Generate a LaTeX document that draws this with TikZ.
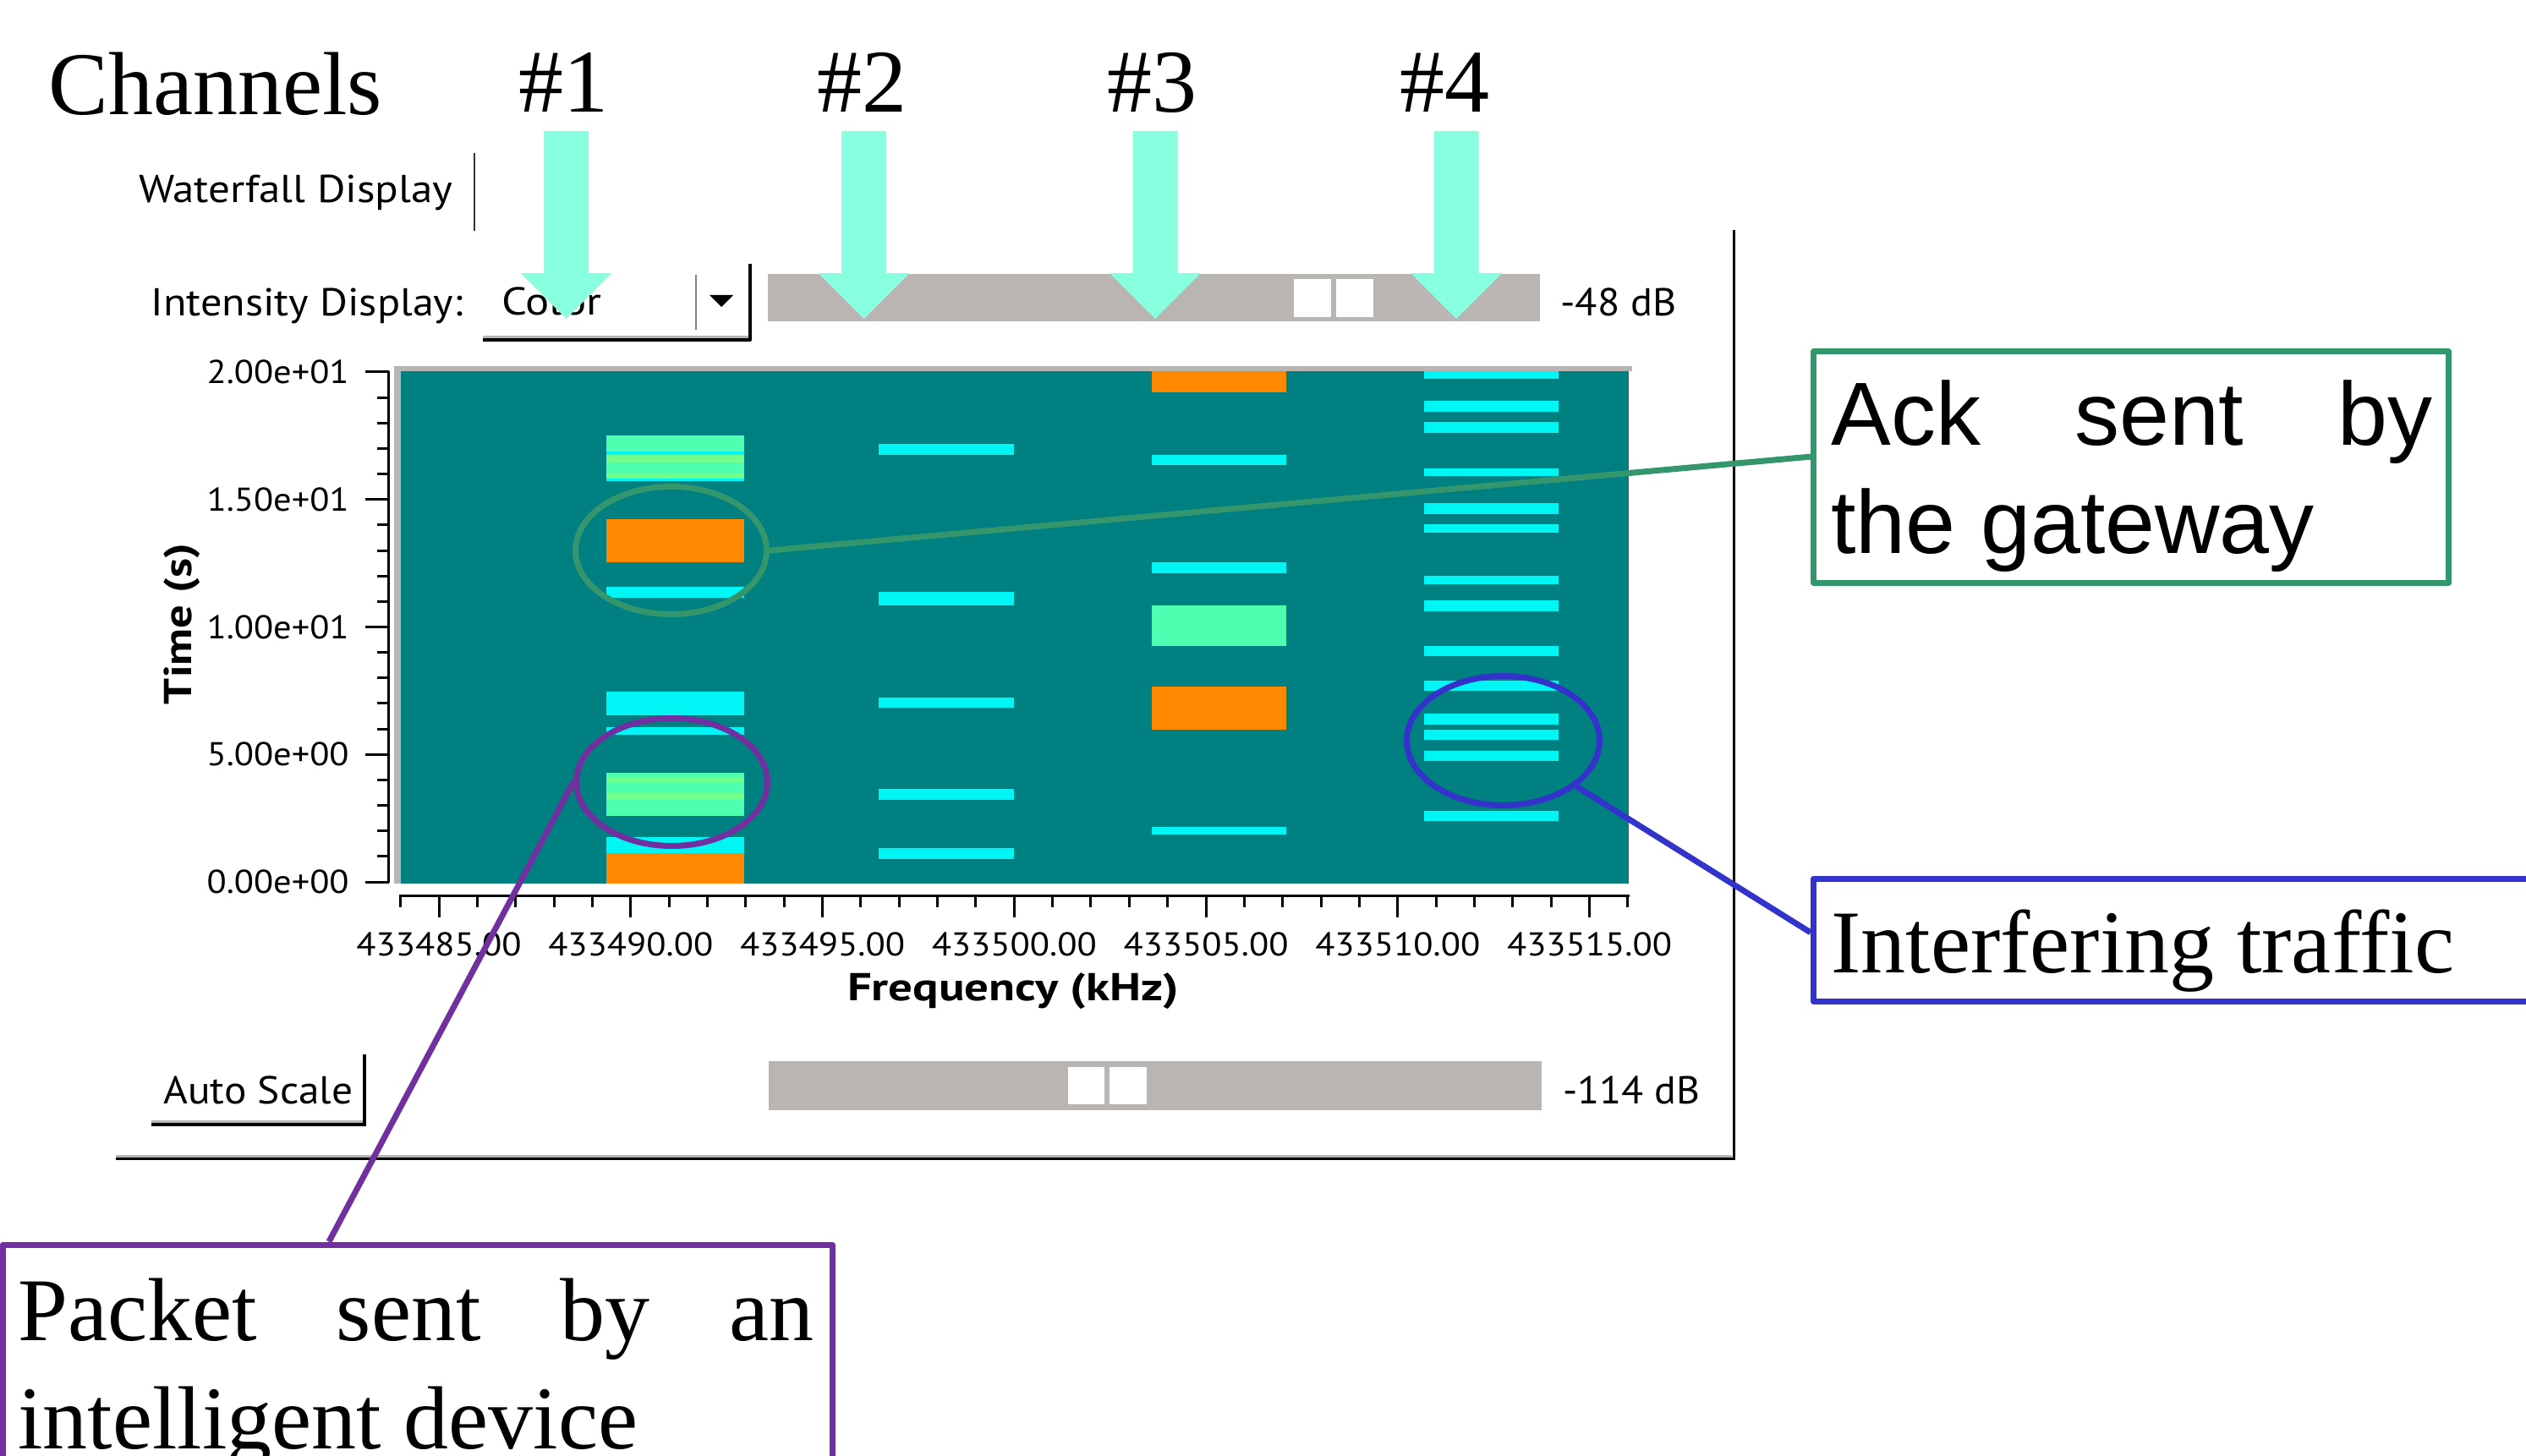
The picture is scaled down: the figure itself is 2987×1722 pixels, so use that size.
\documentclass[tikz,border=0pt]{standalone}
\usepackage{fontspec}
\usepackage{graphicx}
\usetikzlibrary{shapes.geometric,calc}
\newfontfamily\guifont{PT Sans}
\newfontfamily\serifA{Liberation Serif}
\newfontfamily\sansA{Liberation Sans}
\newcommand{\fitw}[2]{\resizebox{#1}{\height}{#2}}
\definecolor{teal0}{RGB}{0,128,128}
\definecolor{cyan0}{RGB}{0,245,245}
\definecolor{orange0}{RGB}{255,136,0}
\definecolor{green1}{RGB}{78,255,178}
\definecolor{green2}{RGB}{112,255,140}
\definecolor{aqua}{RGB}{136,255,222}
\definecolor{slidergray}{RGB}{184,181,178}
\definecolor{ackgreen}{RGB}{52,150,108}
\definecolor{intblue}{RGB}{51,51,204}
\definecolor{pktpurple}{RGB}{112,48,160}
\begin{document}
\begin{tikzpicture}[x=0.5pt,y=-0.5pt,
  gui/.style={font=\guifont\fontsize{23}{27}\selectfont, inner sep=0, anchor=base west},
  guibold/.style={font=\guifont\bfseries\fontsize{23}{27}\selectfont, inner sep=0, anchor=base},
  ticklab/.style={font=\guifont\fontsize{19.5}{23}\selectfont, inner sep=0},
  big/.style={font=\serifA\fontsize{53}{64}\selectfont, inner sep=0, anchor=base west},
  bigsans/.style={font=\sansA\fontsize{53}{64}\selectfont, inner sep=0, anchor=base west},
  axisline/.style={line width=1.5pt},
  ring/.style={ellipse, draw, line width=3.5pt, inner sep=0},
  callbox/.style={draw, line width=3.5pt, line join=round, inner sep=0},
  link/.style={line width=3.5pt}]
\clip (0,0) rectangle (2987,1722);
\fill[white] (0,0) rectangle (2987,1722);

% ---------- GUI frame ----------
\draw[black, line width=1.5pt] (2050,272) -- (2050,1372);
\draw[slidergray, line width=1.5pt] (137,1367.5) -- (2048,1367.5);
\draw[black, line width=1.5pt] (137,1370.5) -- (2051,1370.5);

\node[gui] (wftab) at (164,240) {\fitw{185.5pt}{Waterfall Display}};
\draw[black!80, line width=1.2pt] (561,181) -- (561,273);

\node[gui] (intlab) at (178,373) {\fitw{184.5pt}{Intensity Display:}};
\node[gui] (colorlab) at (593,373) {\fitw{59pt}{Color}};
\draw[slidergray, line width=1.5pt] (571,398.5) -- (885,398.5);
\draw[black, line width=2pt] (571,402) -- (888,402);
\draw[black, line width=2pt] (886.5,312) -- (886.5,403);
\draw[gray, line width=1pt] (823,325) -- (823,390);
\fill[black] (839,349) -- (867,349) -- (853,363) -- cycle;

% top slider
\fill[slidergray] (908,324) rectangle (1821,380);
\fill[white] (1530,330) rectangle (1574,375);
\fill[white] (1580,330) rectangle (1624,375);
\node[gui] (topdb) at (1845,374) {\fitw{68.5pt}{-48 dB}};

% bottom slider
\fill[slidergray] (909,1255) rectangle (1823,1313);
\fill[white] (1263,1262) rectangle (1306,1306);
\fill[white] (1312,1262) rectangle (1356,1306);
\node[gui] (botdb) at (1848,1305) {\fitw{81pt}{-114 dB}};

% auto scale button
\node[gui] (autoscale) at (193,1305) {\fitw{112pt}{Auto Scale}};
\draw[slidergray, line width=1.5pt] (179,1326.5) -- (430,1326.5);
\draw[black, line width=2pt] (179,1330) -- (433,1330);
\draw[black, line width=2pt] (431,1247) -- (431,1332);

% ---------- plot ----------
\fill[slidergray] (466,433) rectangle (1930,439);
\fill[slidergray] (466,433) rectangle (474,1045);
\fill[teal0] (474,439) rectangle (1926,1045);

% y axis
\draw[axisline] (459.5,439) -- (459.5,1044);
\foreach \t in {0,...,20} {\draw[axisline] (446,{1043-\t*30.15}) -- (459.5,{1043-\t*30.15});}
\foreach \t/\lab in {0/0.00e+00,5/5.00e+00,10/1.00e+01,15/1.50e+01,20/2.00e+01} {
  \draw[axisline] (432,{1043-\t*30.15}) -- (459.5,{1043-\t*30.15});
  \node[ticklab, anchor=base east] at (413,{1043-\t*30.15+13.5}) {\fitw{84pt}{\lab}};
}
\node[guibold, rotate=90] (ylab) at (226.5,738) {\fitw{95pt}{Time (s)}};

% x axis
\draw[axisline] (474,1059) -- (1927,1059);
\foreach \k in {0,...,32} {\draw[axisline] ({473.65+\k*45.35},1058) -- ({473.65+\k*45.35},1073);}
\foreach \k/\lab in {1/433485.00,6/433490.00,11/433495.00,16/433500.00,21/433505.00,26/433510.00,31/433515.00} {
  \draw[axisline] ({473.65+\k*45.35},1058) -- ({473.65+\k*45.35},1085);
  \node[ticklab, anchor=base] at ({473.65+\k*45.35},1130) {\fitw{97.5pt}{\lab}};
}
\node[guibold] (xlab) at (1198,1183) {\fitw{196pt}{Frequency (kHz)}};

% ---------- bars ----------
% channel 1
\fill[green1] (717,515) rectangle (880,569);
\fill[cyan0] (717,534) rectangle (880,538);
\fill[green2] (717,538) rectangle (880,547);
\fill[green2] (717,559) rectangle (880,566);
\fill[cyan0] (717,566) rectangle (880,569);
\fill[orange0] (717,614) rectangle (880,665);
\fill[cyan0] (717,694) rectangle (880,707);
\fill[cyan0] (717,818) rectangle (880,846);
\fill[cyan0] (717,860) rectangle (880,869);
\fill[green1] (717,914) rectangle (880,965);
\fill[green2] (717,920) rectangle (880,924.5);
\fill[green2] (717,938) rectangle (880,945.5);
\fill[cyan0] (717,990) rectangle (880,1009);
\fill[orange0] (717,1009) rectangle (880,1045);
% channel 2
\foreach \a/\b in {525/537.5,700/716,825/837,933/946,1003/1016}
  {\fill[cyan0] (1039,\a) rectangle (1199,\b);}
% channel 3
\fill[orange0] (1362,439) rectangle (1521,464);
\fill[cyan0] (1362,538) rectangle (1521,550);
\fill[cyan0] (1362,665) rectangle (1521,678);
\fill[green1] (1362,716) rectangle (1521,764);
\fill[orange0] (1362,812) rectangle (1521,863);
\fill[cyan0] (1362,978) rectangle (1521,987);
% channel 4
\foreach \a/\b in {439/448,474/487,499/512,554/563,595/608,620/630,681/691,710/723,764/776,805/817,844/857,863/875,888/900,959/971}
  {\fill[cyan0] (1684,\a) rectangle (1843,\b);}

% ---------- channel arrows ----------
\foreach \c in {669.5,1021.5,1366,1722} {
  \fill[aqua] ({\c-26.5},155) -- ({\c+26.5},155) -- ({\c+26.5},323) -- ({\c+54},323)
     -- (\c,377) -- ({\c-54},323) -- ({\c-26.5},323) -- cycle;
}

% ---------- headings ----------
\node[big] (chan) at (57,136) {Channels};
\node[big, anchor=base] (h1) at (666,133) {\#1};
\node[big, anchor=base] (h2) at (1019,133) {\#2};
\node[big, anchor=base] (h3) at (1362,133) {\#3};
\node[big, anchor=base] (h4) at (1708,133) {\#4};

% ---------- callouts ----------
\node[ring, draw=ackgreen, minimum width=113pt, minimum height=75.5pt] (ackell) at (793.5,651) {};
\node[ring, draw=pktpurple, minimum width=113pt, minimum height=75.5pt] (pktell) at (794.5,925) {};
\node[ring, draw=intblue, minimum width=114pt, minimum height=76.5pt] (intell) at (1777.5,876) {};

\node[callbox, draw=ackgreen, minimum width=375.5pt, minimum height=136.75pt] (ackbox) at (2520,552.75) {};
\node[callbox, draw=intblue, minimum width=477.75pt, minimum height=72.5pt] (intbox) at (2622.25,1112) {};
\node[callbox, draw=pktpurple, minimum width=490.75pt, minimum height=164pt] (pktbox) at (493.75,1636) {};

\draw[link, ackgreen] (ackell.east) -- ($(ackbox.north west)!0.455!(ackbox.south west)$);
\draw[link, intblue] (intell.-32) -- ($(intbox.north west)!0.44!(intbox.south west)$);
\draw[link, pktpurple] (pktell.west) -- ($(pktbox.north west)!0.394!(pktbox.north east)$);

\node[bigsans] (ack1) at (2165,526) {\makebox[355.5pt][s]{Ack sent by}};
\node[bigsans] (ack2) at (2165,654) {the gateway};
\node[big] (inttxt) at (2165,1150) {Interfering traffic};
\node[big] (pkt1) at (21,1585) {\makebox[470.5pt][s]{Packet sent by an}};
\node[big] (pkt2) at (21,1713) {intelligent device};
\end{tikzpicture}
\end{document}
